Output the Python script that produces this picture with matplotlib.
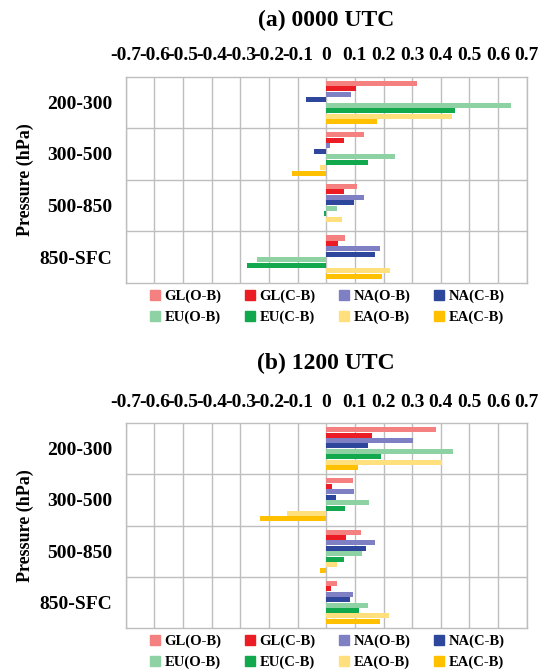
import numpy as np
import matplotlib
matplotlib.use('Agg')
import matplotlib.pyplot as plt
from matplotlib.patches import Patch

plt.rcParams['font.family'] = ['Liberation Serif', 'DejaVu Serif']
plt.rcParams['font.weight'] = 'bold'
plt.rcParams['axes.unicode_minus'] = False

levels = ['200-300', '300-500', '500-850', '850-SFC']
series = ['GL(O-B)', 'GL(C-B)', 'NA(O-B)', 'NA(C-B)',
          'EU(O-B)', 'EU(C-B)', 'EA(O-B)', 'EA(C-B)']
colors = ['#F4807F', '#EC1C24', '#7F7FC4', '#2E479C',
          '#8ED2A4', '#12A84D', '#FFE07D', '#FFC000']

xticks = [-0.7, -0.6, -0.5, -0.4, -0.3, -0.2, -0.1, 0,
          0.1, 0.2, 0.3, 0.4, 0.5, 0.6, 0.7]
xtick_labels = ['-0.7', '-0.6', '-0.5', '-0.4', '-0.3', '-0.2', '-0.1', '0',
                '0.1', '0.2', '0.3', '0.4', '0.5', '0.6', '0.7']

# rows = series, columns = levels
vals_00 = [
    [0.318, 0.133, 0.108, 0.066],
    [0.104, 0.062, 0.062, 0.041],
    [0.085, 0.012, 0.131, 0.188],
    [-0.071, -0.042, 0.098, 0.169],
    [0.645, 0.240, 0.038, -0.241],
    [0.451, 0.147, -0.008, -0.277],
    [0.438, -0.022, 0.054, 0.224],
    [0.178, -0.118, 0.0, 0.195],
]
vals_12 = [
    [0.382, 0.094, 0.120, 0.038],
    [0.160, 0.020, 0.069, 0.015],
    [0.304, 0.096, 0.171, 0.094],
    [0.145, 0.034, 0.139, 0.083],
    [0.442, 0.150, 0.124, 0.145],
    [0.190, 0.064, 0.062, 0.113],
    [0.403, -0.136, 0.038, 0.218],
    [0.112, -0.230, -0.022, 0.188],
]

fig = plt.figure(figsize=(5.47, 6.72), dpi=100)


def panel(rect, vals, title, title_y, leg_y):
    ax = fig.add_axes(rect)
    y = np.arange(len(levels))
    h = 0.106
    for j, (name, c) in enumerate(zip(series, colors)):
        ax.barh(y + (j - 3.5) * h, vals[j], height=h * 0.92, color=c,
                label=name, zorder=3)
    ax.set_xlim(-0.7, 0.7)
    ax.set_ylim(3.5, -0.5)
    ax.set_xticks(xticks)
    ax.set_xticklabels(xtick_labels, fontsize=14, fontweight='bold')
    ax.xaxis.tick_top()
    ax.set_yticks(y)
    ax.set_yticklabels(levels, fontsize=14, fontweight='bold')
    ax.set_yticks([0.5, 1.5, 2.5], minor=True)
    ax.tick_params(which='both', length=0)
    ax.tick_params(axis='x', pad=9)
    ax.tick_params(axis='y', pad=10)
    ax.grid(axis='x', color='#BEBEBE', lw=1, zorder=0)
    ax.grid(axis='y', which='minor', color='#BEBEBE', lw=1, zorder=0)
    for s in ax.spines.values():
        s.set_color('#BEBEBE')
        s.set_linewidth(1)
    ax.set_ylabel('Pressure (hPa)', fontsize=13, fontweight='bold', labelpad=4)
    fig.text(0.596, title_y, title, ha='center', va='center',
             fontsize=17, fontweight='bold')
    handles = [Patch(color=c, label=n) for n, c in zip(series, colors)]
    order = [0, 4, 1, 5, 2, 6, 3, 7]
    fig.legend([handles[i] for i in order], [series[i] for i in order],
               ncol=4, loc='center', bbox_to_anchor=(0.598, leg_y),
               frameon=False, prop={'size': 10.5, 'weight': 'bold'},
               handlelength=0.7, handleheight=0.7, handletextpad=0.3,
               columnspacing=1.6, labelspacing=0.5)
    return ax


panel([0.230, 0.579, 0.733, 0.307], vals_00, '(a) 0000 UTC', 0.970, 0.543)
panel([0.230, 0.0655, 0.733, 0.305], vals_12, '(b) 1200 UTC', 0.459, 0.030)

fig.savefig('out.png', dpi=100)
